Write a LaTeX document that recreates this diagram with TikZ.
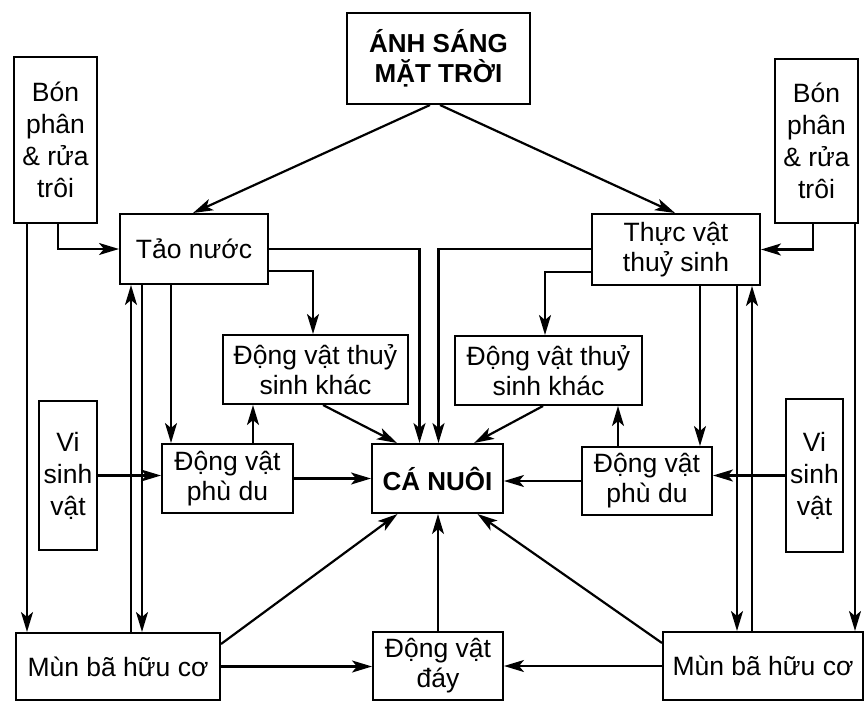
\documentclass[tikz,border=0pt]{standalone}
\usepackage{fontspec}
\setmainfont{Liberation Sans}
\usetikzlibrary{arrows.meta,calc}
\tikzset{
 bx/.style={draw, line width=2pt, inner sep=0pt, align=center, font=\fontsize{26.5}{30}\selectfont},
 tallbx/.style={bx, font=\fontsize{26.5}{32}\selectfont},
 boldbx/.style={bx, font=\bfseries\fontsize{26}{30}\selectfont},
 arr/.style={line width=2.2pt, -{Stealth[length=20pt,width=12pt,inset=5pt]}},
}
\begin{document}
\begin{tikzpicture}[x=1pt,y=-1pt]
\useasboundingbox (0,0) rectangle (865,702);
% nodes
\node[boldbx, minimum width=183pt, minimum height=91pt] (sun) at (438.5,58.5) {ÁNH SÁNG\\MẶT TRỜI};
\node[tallbx, minimum width=83pt, minimum height=166pt] (bonL) at (55.5,140) {Bón\\phân\\\& rửa\\trôi};
\node[tallbx, minimum width=83pt, minimum height=164pt] (bonR) at (816.5,141) {Bón\\phân\\\& rửa\\trôi};
\node[bx, minimum width=148pt, minimum height=70pt] (tao) at (194,249) {Tảo nước};
\node[bx, minimum width=168pt, minimum height=71pt] (tvts) at (676,249.5) {Thực vật\\thuỷ sinh};
\node[bx, minimum width=185pt, minimum height=69pt] (dvtsL) at (315.5,369.5) {Động vật thuỷ\\sinh khác};
\node[bx, minimum width=187pt, minimum height=69pt] (dvtsR) at (548.5,370.5) {Động vật thuỷ\\sinh khác};
\node[tallbx, minimum width=58pt, minimum height=149pt] (vsvL) at (68,475.5) {Vi\\sinh\\vật};
\node[tallbx, minimum width=57pt, minimum height=153pt] (vsvR) at (814.5,475.5) {Vi\\sinh\\vật};
\node[bx, minimum width=131pt, minimum height=69pt] (pdL) at (227.5,478.5) {Động vật\\phù du};
\node[boldbx, minimum width=131pt, minimum height=69pt] (ca) at (437.5,478.5) {CÁ NUÔI};
\node[bx, minimum width=130pt, minimum height=68pt] (pdR) at (647,481) {Động vật\\phù du};
\node[bx, minimum width=204pt, minimum height=67pt] (munL) at (118,666.5) {Mùn bã hữu cơ};
\node[bx, minimum width=130pt, minimum height=68pt] (day) at (438,666) {Động vật\\đáy};
\node[bx, minimum width=200pt, minimum height=68pt] (munR) at (763,666) {Mùn bã hữu cơ};
% connectors
\draw[arr] ([xshift=-8.5pt]sun.south) -- ([xshift=-1pt]tao.north);
\draw[arr] ([xshift=1.5pt]sun.south) -- ([xshift=-1pt]tvts.north);
\draw[arr] ([xshift=2.5pt]bonL.south) |- (tao.west);
\draw[arr] ([xshift=-28.5pt]bonL.south) coordinate (a1) -- (a1 |- munL.north);
\draw[arr] ([xshift=-3.5pt]bonR.south) |- (tvts.east);
\draw[arr] ([xshift=38.5pt]bonR.south) coordinate (a2) -- (a2 |- munR.north);
\draw[arr] (tao.east) -| ([xshift=-18pt]ca.north);
\draw[arr] ([yshift=-22pt]tao.east) -| ([xshift=-2.5pt]dvtsL.north);
\draw[arr] ([yshift=0.5pt]tvts.west) -| ([xshift=1pt]ca.north);
\draw[arr] ([yshift=-22.5pt]tvts.west) -| ([xshift=-3.5pt]dvtsR.north);
\draw[arr] ([xshift=-23pt]tao.south) coordinate (a3) -- (a3 |- pdL.north);
\draw[arr] ([xshift=-52pt]tao.south) coordinate (a4) -- (a4 |- munL.north);
\path ([xshift=-63pt]tao.south) coordinate (a5);
\draw[arr] (a5 |- munL.north) -- (a5);
\draw[arr] ([xshift=24pt]tvts.south) coordinate (a6) -- (a6 |- pdR.north);
\draw[arr] ([xshift=61pt]tvts.south) coordinate (a7) -- (a7 |- munR.north);
\path ([xshift=76pt]tvts.south) coordinate (a8);
\draw[arr] (a8 |- munR.north) -- (a8);
\draw[arr] (vsvL.east) -- (vsvL.east -| pdL.west);
\draw[arr] (vsvR.west) -- (vsvR.west -| pdR.east);
\draw[arr] ([xshift=25.5pt]pdL.north) coordinate (a9) -- (a9 |- dvtsL.south);
\draw[arr] ([xshift=-29pt]pdR.north) coordinate (a10) -- (a10 |- dvtsR.south);
\draw[arr] ([xshift=7.5pt]dvtsL.south) -- ([xshift=-40.5pt]ca.north);
\draw[arr] ([xshift=-5.5pt]dvtsR.south) -- ([xshift=36.5pt]ca.north);
\draw[arr] (pdL.east) -- (ca.west);
\draw[arr] (pdR.west) -- (pdR.west -| ca.east);
\draw[arr] ([yshift=-12pt]munL.north east) -- ([xshift=-40pt]ca.south);
\draw[arr] ([yshift=-12pt]munR.north west) -- ([xshift=40pt]ca.south);
\draw[arr, line width=1.4pt] (day.north) -- (day.north |- ca.south);
\draw[arr] (munL.east) -- (munL.east -| day.west);
\draw[arr] (munR.west) -- (munR.west -| day.east);
\end{tikzpicture}
\end{document}
